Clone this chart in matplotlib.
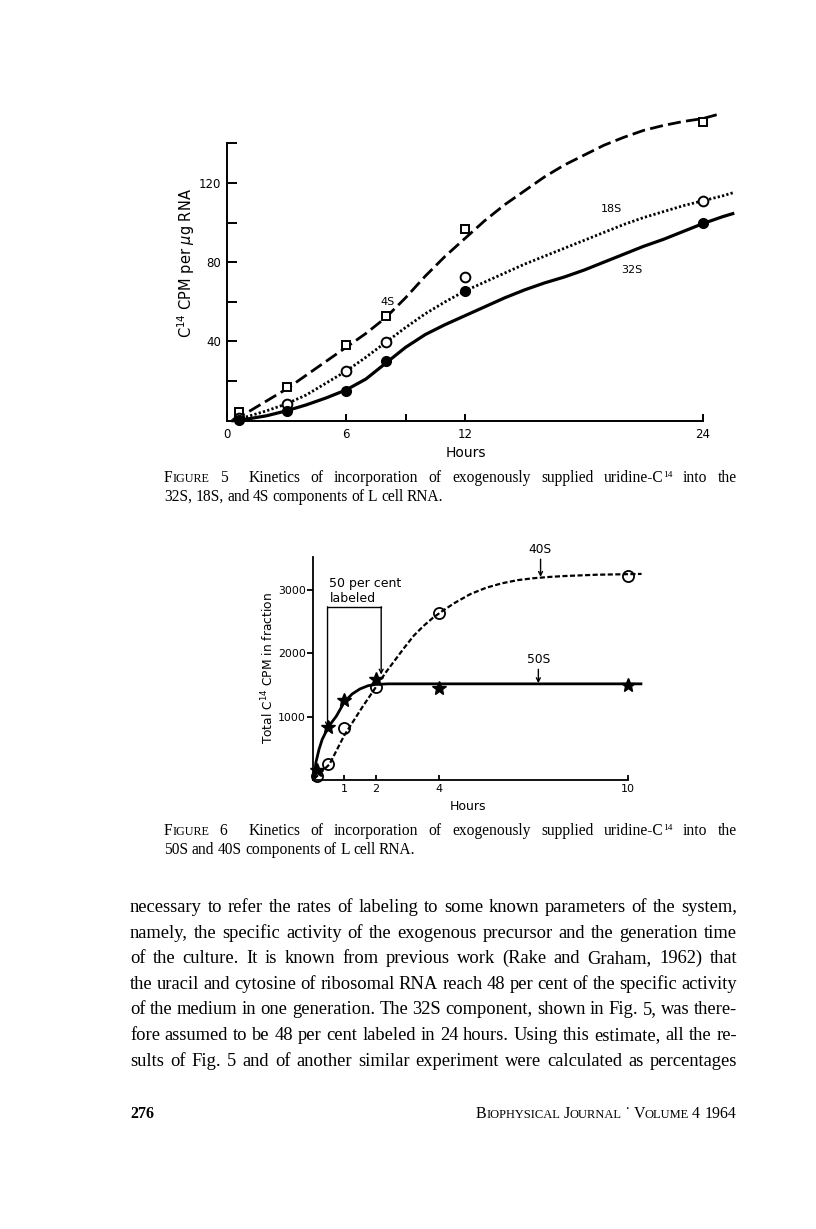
import numpy as np
import matplotlib
matplotlib.use("Agg")
import matplotlib.pyplot as plt

# ---- Figure 5 data ----
hours5 = [0.6, 3, 6, 8, 12, 24]
pts_4s = [4.2, 16.9, 38, 53, 97, 151]
pts_18s = [1.5, 8.5, 25, 39.5, 72.5, 111]
pts_32s = [0.5, 5, 15.2, 30, 65.5, 100]

# hand-drawn fitted curves, read point by point
curve_x4 = [0.3, 1, 2, 3, 4, 5, 6, 7, 8, 9, 10, 11, 12, 13, 14, 15, 16, 17,
            18, 19, 20, 21, 22, 23, 24, 24.9]
curve_4s = [0.5, 4, 10, 16, 23, 30, 37, 44, 52, 62, 73, 83, 92, 101, 109, 116,
            123, 129, 134, 139, 143, 146.5, 149, 151, 152.5, 155]
curve_x5 = [0.3, 1, 2, 3, 4, 5, 6, 7, 8, 9, 10, 11, 12, 13, 14, 15, 16, 17,
            18, 19, 20, 21, 22, 23, 24, 25, 25.5]
curve_18s = [0.3, 2, 5, 8.5, 13, 19, 25, 32, 39.5, 47, 54, 60, 65.5, 70, 74.5,
             79, 83, 87, 91, 95, 99, 102.5, 105.5, 108.5, 111, 113.5, 115]
curve_32s = [0, 0.8, 2.5, 5, 8, 11.5, 15.5, 21, 29, 37, 43.5, 48.5, 53, 57.5,
             62, 66, 69.5, 72.5, 76, 80, 84, 88, 91.5, 95.5, 99.5, 103, 104.5]

# ---- Figure 6 data ----
hours6 = [0.15, 0.5, 1, 2, 4, 10]
pts_50s = [158, 842, 1260, 1590, 1458, 1495]
pts_40s = [63, 247, 826, 1468, 2642, 3221]

curve50_x = [0.05, 0.1, 0.2, 0.3, 0.5, 0.75, 1.0, 1.25, 1.5, 1.75, 2.0, 2.4, 3, 10.4]
curve50_y = [37, 274, 484, 640, 842, 1010, 1230, 1360, 1440, 1490, 1512, 1520, 1520, 1520]
curve40_x = [0.05, 0.53, 1.0, 1.58, 2.08, 2.3, 2.6, 2.9, 3.2, 3.5, 3.8, 4.1, 4.5,
             5.0, 5.5, 6.0, 6.5, 7.0, 7.5, 8.0, 9.0, 10.42]
curve40_y = [21, 247, 705, 1158, 1526, 1690, 1890, 2090, 2280, 2430, 2560, 2668,
             2800, 2940, 3040, 3110, 3160, 3190, 3210, 3225, 3245, 3258]

body_lines = [
    "necessary to refer the rates of labeling to some known parameters of the system,",
    "namely, the specific activity of the exogenous precursor and the generation time",
    "of the culture. It is known from previous work (Rake and Graham, 1962) that",
    "the uracil and cytosine of ribosomal RNA reach 48 per cent of the specific activity",
    "of the medium in one generation. The 32S component, shown in Fig. 5, was there-",
    "fore assumed to be 48 per cent labeled in 24 hours. Using this estimate, all the re-",
    "sults of Fig. 5 and of another similar experiment were calculated as percentages",
]

W, H = 816, 1229
fig = plt.figure(figsize=(W / 100, H / 100), dpi=100)
fig.patch.set_facecolor("white")
SANS = "DejaVu Sans"
SERIF = ["Liberation Serif", "DejaVu Serif"]


def px_axes(l, t, r, b):
    return fig.add_axes([l / W, 1 - b / H, (r - l) / W, (b - t) / H])


# ---------------- Figure 5 ----------------
ax5 = px_axes(227, 143.3, 703, 420.7)
ax5.set_xlim(0, 24)
ax5.set_ylim(0, 140)
ax5.plot(curve_x4, curve_4s, color="black", lw=2.0, ls=(0, (4.7, 1.9)), clip_on=False)
ax5.plot(curve_x5, curve_18s, color="black", lw=2.0, ls=(0, (0.8, 0.8)), clip_on=False)
ax5.plot(curve_x5, curve_32s, color="black", lw=2.3, clip_on=False)
ax5.plot(hours5, pts_4s, "s", ms=6, mfc="white", mec="black", mew=1.4, clip_on=False, zorder=5)
ax5.plot(hours5, pts_18s, "o", ms=7, mfc="white", mec="black", mew=1.4, clip_on=False, zorder=5)
ax5.plot(hours5, pts_32s, "o", ms=7, mfc="black", mec="black", clip_on=False, zorder=6)
ax5.text(8.1, 60, "4S", fontsize=8, family=SANS, ha="center", va="center")
ax5.text(19.4, 106.6, "18S", fontsize=8, family=SANS, ha="center", va="center")
ax5.text(20.4, 76, "32S", fontsize=8, family=SANS, ha="center", va="center")

ax5.set_xticks([0, 6, 9, 12, 24])
ax5.set_xticklabels(["0", "6", "", "12", "24"])
ax5.set_yticks([20, 40, 60, 80, 100, 120, 140])
ax5.set_yticklabels(["", "40", "", "80", "", "120", ""])
ax5.tick_params(axis="x", direction="in", length=5, width=1.4, pad=5, labelsize=8.5)
ax5.tick_params(axis="y", direction="in", length=7.2, width=1.4, pad=4, labelsize=8.5)
for lab in ax5.get_xticklabels() + ax5.get_yticklabels():
    lab.set_family(SANS)
for s in ["top", "right"]:
    ax5.spines[s].set_visible(False)
for s in ["left", "bottom"]:
    ax5.spines[s].set_linewidth(1.4)
fig.text(466 / W, 1 - 453 / H, "Hours", fontsize=10, family=SANS, ha="center", va="center")
fig.text(186 / W, 1 - 263 / H, "C$^{14}$ CPM per $\\mu$g RNA", fontsize=10.5, family=SANS,
         rotation=90, ha="center", va="center")

# ---------------- Figure 6 ----------------
ax6 = px_axes(312.7, 556.7, 628.3, 780)
ax6.set_xlim(0, 10)
ax6.set_ylim(0, 3530)
ax6.plot(curve50_x, curve50_y, color="black", lw=2.0, clip_on=False)
ax6.plot(curve40_x, curve40_y, color="black", lw=1.6, ls=(0, (2.3, 1.1)), clip_on=False)
ax6.plot(hours6, pts_50s, "*", ms=10, color="black", clip_on=False, zorder=6)
ax6.plot(hours6, pts_40s, "o", ms=8, mfc="none", mec="black", mew=1.3, clip_on=False, zorder=5)

arr = dict(arrowstyle="->", lw=1.0, color="black", mutation_scale=7, shrinkA=0, shrinkB=0)
ax6.text(7.2, 3640, "40S", fontsize=8.8, family=SANS, ha="center", va="center")
ax6.annotate("", xy=(7.22, 3210), xytext=(7.22, 3490), arrowprops=arr, annotation_clip=False)
ax6.text(7.15, 1900, "50S", fontsize=8.8, family=SANS, ha="center", va="center")
ax6.annotate("", xy=(7.15, 1530), xytext=(7.15, 1750), arrowprops=arr)
# 50 per cent bracket
ax6.plot([0.47, 2.17], [2738, 2738], color="black", lw=1.0)
ax6.annotate("", xy=(0.47, 830), xytext=(0.47, 2738), arrowprops=arr)
ax6.annotate("", xy=(2.17, 1665), xytext=(2.17, 2738), arrowprops=arr)
ax6.text(0.53, 3110, "50 per cent", fontsize=9, family=SANS, ha="left", va="center")
ax6.text(0.53, 2862, "labeled", fontsize=9, family=SANS, ha="left", va="center")

ax6.set_xticks([1, 2, 4, 10])
ax6.set_yticks([1000, 2000, 3000])
ax6.tick_params(axis="x", direction="in", length=3.6, width=1.3, pad=3, labelsize=8)
ax6.tick_params(axis="y", direction="out", length=4.3, width=1.3, pad=0.8, labelsize=7.8)
for lab in ax6.get_xticklabels() + ax6.get_yticklabels():
    lab.set_family(SANS)
for s in ["top", "right"]:
    ax6.spines[s].set_visible(False)
for s in ["left", "bottom"]:
    ax6.spines[s].set_linewidth(1.3)
fig.text(468 / W, 1 - 806 / H, "Hours", fontsize=9, family=SANS, ha="center", va="center")
fig.text(268 / W, 1 - 668 / H, "Total C$^{14}$ CPM in fraction", fontsize=8.8, family=SANS,
         rotation=90, ha="center", va="center")

# ---------------- page text ----------------
renderer = fig.canvas.get_renderer()


def put_line(tokens, x0, x1, ybase, size, justify=True, weight="normal", space=0.22):
    """tokens: list of words; each word is a list of runs (text, scale, raise_px)."""
    objs, widths = [], []
    for word in tokens:
        runs, wsum = [], 0.0
        for txt, scale, rise in word:
            t = fig.text(0, 0, txt, fontsize=size * scale, family=SERIF, weight=weight,
                         ha="left", va="baseline")
            w = t.get_window_extent(renderer).width if txt else 0.0
            runs.append((t, wsum, rise))
            wsum += w
        objs.append(runs)
        widths.append(wsum)
    if justify and len(tokens) > 1:
        gap = (x1 - x0 - sum(widths)) / (len(tokens) - 1)
    else:
        gap = size * space * 100 / 72
    x = x0
    for runs, w in zip(objs, widths):
        for t, off, rise in runs:
            t.set_position(((x + off) / W, 1 - (ybase - rise) / H))
        x += w + gap


def plain(line):
    return [[(w, 1.0, 0)] for w in line.split(" ")]


def smallcaps(word, k=0.78):
    return [(word[0], 1.0, 0), (word[1:], k, 0)]


cap_size = 11.2
sup = [("uridine-C", 1.0, 0), ("14", 0.6, 4.5)]
for fig_no, line1_rest, line2, yb in [
    ("5", "Kinetics of incorporation of exogenously supplied", "32S, 18S, and 4S components of L cell RNA.", 482),
    ("6", "Kinetics of incorporation of exogenously supplied", "50S and 40S components of L cell RNA.", 835),
]:
    toks = [smallcaps("FIGURE"), [(fig_no, 1.0, 0)], [("", 1.0, 0)]] + plain(line1_rest) + [sup] + plain("into the")
    put_line(toks, 164, 737, yb, cap_size)
    put_line(plain(line2), 164, 737, yb + 19, cap_size, justify=False)

for i, line in enumerate(body_lines):
    put_line(plain(line), 130, 737, 912 + i * 25.6, 13.3)

put_line([[("276", 1.0, 0)]], 130, 200, 1118, 11.5, justify=False, weight="bold")
foot = [smallcaps("BIOPHYSICAL"), smallcaps("JOURNAL") + [(" \u02d9", 1.0, 0)],
        smallcaps("VOLUME"), [("4", 1.0, 0)], [("", 1.0, 0)], [("1964", 1.0, 0)]]
put_line(foot, 476, 737, 1118, 11.5)

fig.savefig("out.png", dpi=100, facecolor="white")
